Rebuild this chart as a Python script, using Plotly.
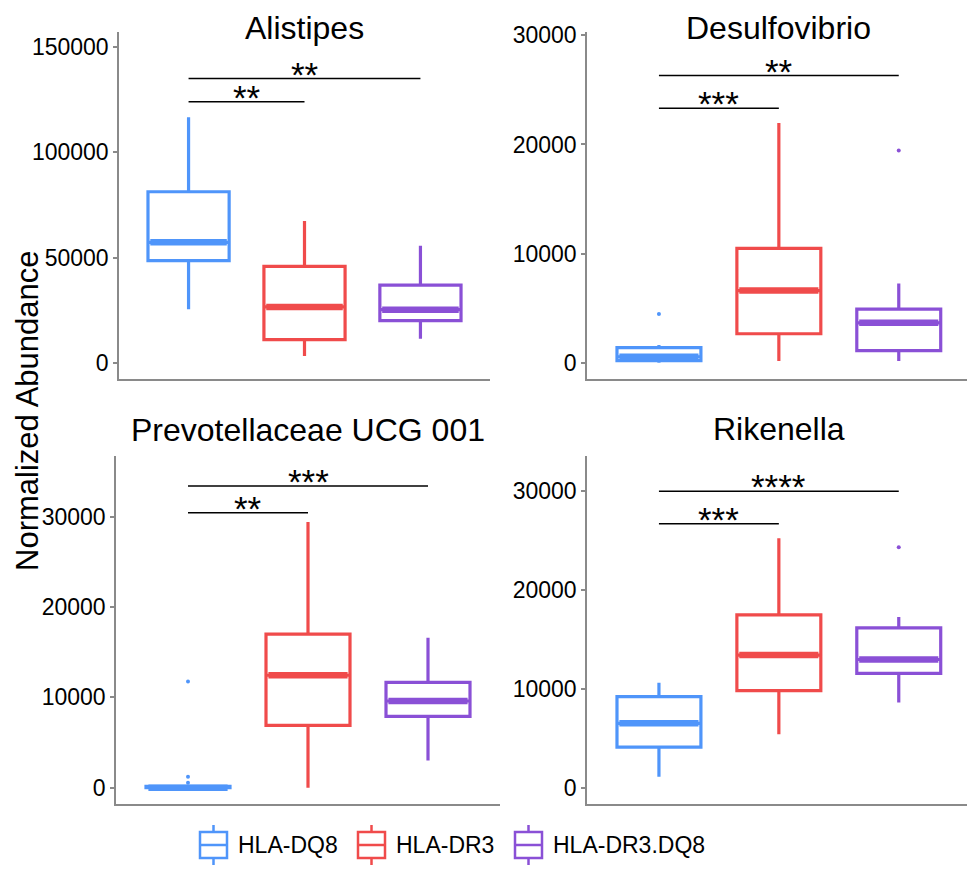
import plotly.graph_objects as go

groups = ["HLA-DQ8", "HLA-DR3", "HLA-DR3.DQ8"]
colors = ["#4F95FA", "#F04B4B", "#8A50D6"]
panels = ["Alistipes", "Desulfovibrio", "Prevotellaceae UCG 001", "Rikenella"]

# box statistics per panel, per group
lower = [[25500, 3300, 11500], [50, 200, 200], [0, 0, 3000], [1100, 5400, 8600]]
q1 = [[48600, 11100, 20100], [250, 2700, 1150], [0, 6900, 7900], [4100, 9800, 11550]]
median = [[57300, 26600, 25300], [600, 6650, 3700], [0, 12450, 9600], [6500, 13400, 12950]]
q3 = [[81300, 45900, 37000], [1430, 10500, 4950], [150, 17000, 11650], [9200, 17450, 16150]]
upper = [[116600, 67400, 55700], [1670, 21950, 7300], [300, 29400, 16600], [10600, 25200, 17250]]

# outliers: (group index, value)
outliers = [
    [],
    [(0, 4500), (2, 19450)],
    [(0, 11750), (0, 1200), (0, 550)],
    [(2, 24300)],
]

# significance brackets: (from group, to group, y, label)
sig = [
    [(0, 1, 124000, "**"), (0, 2, 135000, "**")],
    [(0, 1, 23300, "***"), (0, 2, 26300, "**")],
    [(0, 1, 30450, "**"), (0, 2, 33400, "***")],
    [(0, 1, 26650, "***"), (0, 2, 29950, "****")],
]

y_ranges = [[-7595, 157120], [-1462, 30275], [-1805, 36720], [-1646, 33505]]
y_ticks = [[0, 50000, 100000, 150000], [0, 10000, 20000, 30000],
           [0, 10000, 20000, 30000], [0, 10000, 20000, 30000]]

W, H = 975, 870
OFF = 8  # page body margin


def px(x):
    return (x - OFF) / W


def py(y):
    return 1 - (y - OFF) / H


x_domains = [[px(119), px(490)], [px(587), px(970.7)], [px(116), px(500)], [px(587), px(970.7)]]
y_domains = [[py(379), py(32)], [py(379.3), py(32)], [py(804), py(456)], [py(804), py(456)]]
title_base = [None, None, 442, 441]

FONT = "Liberation Sans, Arial, sans-serif"
fig = go.Figure()
annotations = []
shapes = []
BOXW = 0.7

for p in range(4):
    xa = "x" if p == 0 else f"x{p+1}"
    ya = "y" if p == 0 else f"y{p+1}"
    for g in range(3):
        pos = g + 1
        fig.add_trace(go.Box(
            x=[pos], q1=[q1[p][g]], median=[median[p][g]], q3=[q3[p][g]],
            lowerfence=[lower[p][g]], upperfence=[upper[p][g]],
            width=BOXW, whiskerwidth=0, fillcolor="rgba(0,0,0,0)",
            line=dict(color=colors[g], width=3.2), boxpoints=False,
            xaxis=xa, yaxis=ya, showlegend=False, hoverinfo="skip",
        ))
        # thicker median line
        fig.add_trace(go.Scatter(
            x=[pos - BOXW / 2 + 0.02, pos + BOXW / 2 - 0.02],
            y=[median[p][g], median[p][g]], mode="lines",
            line=dict(color=colors[g], width=6.5), xaxis=xa, yaxis=ya,
            showlegend=False, hoverinfo="skip",
        ))
    if outliers[p]:
        fig.add_trace(go.Scatter(
            x=[o[0] + 1 for o in outliers[p]], y=[o[1] for o in outliers[p]],
            mode="markers",
            marker=dict(color=[colors[o[0]] for o in outliers[p]], size=4),
            xaxis=xa, yaxis=ya, showlegend=False, hoverinfo="skip",
        ))
    for (a, b, yv, lab) in sig[p]:
        shapes.append(dict(type="line", xref=xa, yref=ya, x0=a + 1, x1=b + 1,
                           y0=yv, y1=yv, line=dict(color="black", width=1.5)))
        annotations.append(dict(text=lab, xref=xa, yref=ya, x=(a + b) / 2 + 1, y=yv,
                                yanchor="bottom", showarrow=False, yshift=-17,
                                font=dict(size=35, color="black", family=FONT)))
    # panel title
    if title_base[p] is None:
        ty, tanchor = 1.0, "top"
    else:
        ty, tanchor = py(title_base[p] + 8), "bottom"
    annotations.append(dict(text=panels[p], xref="paper", yref="paper",
                            x=sum(x_domains[p]) / 2, y=ty,
                            yanchor=tanchor, xanchor="center",
                            showarrow=False, font=dict(size=32, color="black", family=FONT)))
    axis_x = dict(domain=x_domains[p], range=[0.4, 3.6], showline=True,
                  linecolor="#8a8a8a", linewidth=1.5, showticklabels=False,
                  ticks="", showgrid=False, zeroline=False, anchor=ya,
                  fixedrange=True, automargin=False)
    axis_y = dict(domain=y_domains[p], range=y_ranges[p], showline=True,
                  linecolor="#8a8a8a", linewidth=1.5, tickvals=y_ticks[p],
                  ticktext=[str(v) for v in y_ticks[p]], ticks="outside",
                  ticklen=4, tickcolor="#8a8a8a", tickwidth=1.5, showgrid=False,
                  zeroline=False, anchor=xa, automargin=False,
                  tickfont=dict(size=23, color="black", family=FONT))
    key = "" if p == 0 else str(p + 1)
    fig.layout["xaxis" + key] = axis_x
    fig.layout["yaxis" + key] = axis_y

# y-axis title
annotations.append(dict(text="Normalized Abundance", xref="paper", yref="paper",
                        x=px(27), y=py(411), textangle=-90, showarrow=False,
                        xanchor="center", yanchor="middle",
                        font=dict(size=31, color="black", family=FONT)))

# manual legend
leg_x = [200, 358, 515]
for g in range(3):
    x0 = px(leg_x[g])
    x1 = px(leg_x[g] + 27)
    xm = px(leg_x[g] + 13.5)
    yt = py(832)
    yb = py(858)
    ym = py(845)
    c = colors[g]
    shapes.append(dict(type="rect", xref="paper", yref="paper", x0=x0, x1=x1,
                       y0=yb, y1=yt, line=dict(color=c, width=2.5)))
    shapes.append(dict(type="line", xref="paper", yref="paper", x0=x0, x1=x1,
                       y0=ym, y1=ym, line=dict(color=c, width=2.5)))
    shapes.append(dict(type="line", xref="paper", yref="paper", x0=xm, x1=xm,
                       y0=yt, y1=py(825), line=dict(color=c, width=2.5)))
    shapes.append(dict(type="line", xref="paper", yref="paper", x0=xm, x1=xm,
                       y0=yb, y1=py(865), line=dict(color=c, width=2.5)))
    annotations.append(dict(text=groups[g], xref="paper", yref="paper",
                            x=px(leg_x[g] + 36), y=py(845), xanchor="left",
                            yanchor="middle", showarrow=False,
                            font=dict(size=23, color="black", family=FONT)))

fig.update_layout(width=W, height=H, margin=dict(l=0, r=0, t=0, b=0, pad=0, autoexpand=False),
                  template="none",
                  paper_bgcolor="white", plot_bgcolor="white",
                  annotations=annotations, shapes=shapes, showlegend=False)

fig.write_html("out.html")
